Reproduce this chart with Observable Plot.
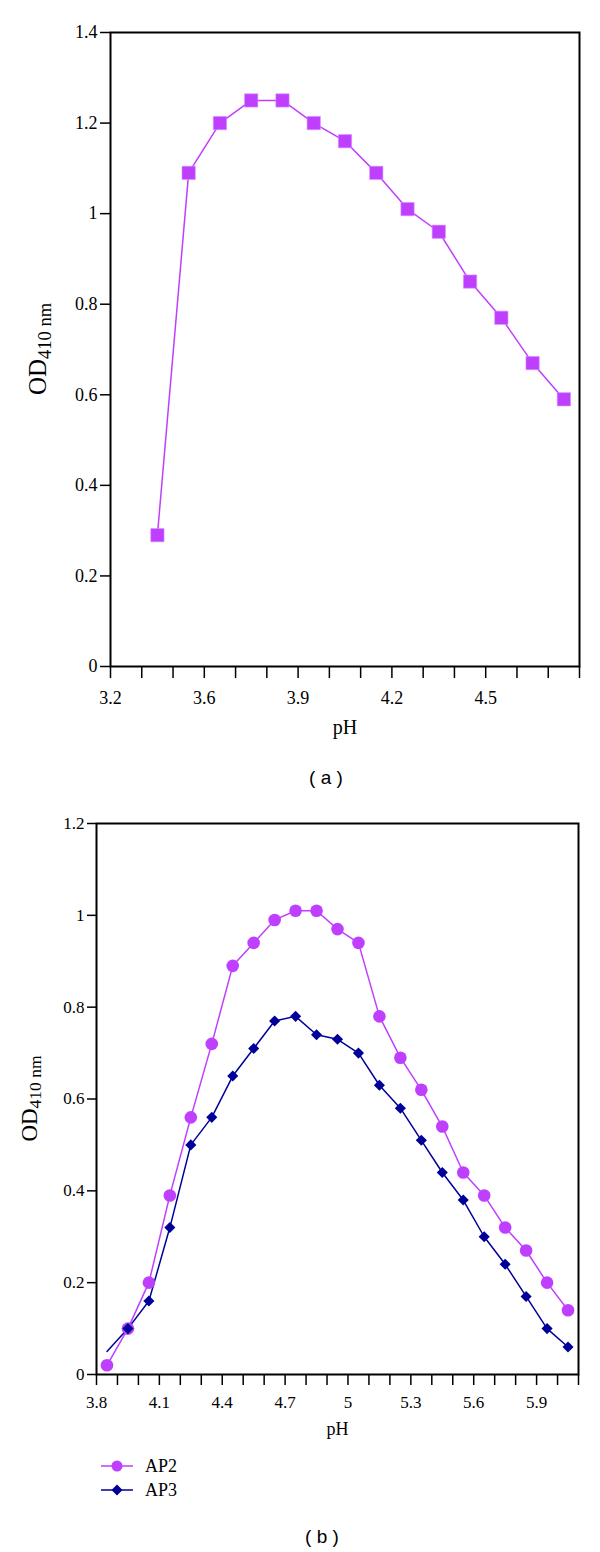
<!DOCTYPE html>
<html><head><meta charset="utf-8">
<script src="https://cdn.jsdelivr.net/npm/d3@7"></script>
<script src="https://cdn.jsdelivr.net/npm/@observablehq/plot@0.6"></script>
<style>
body{margin:0;background:#fff;}
#root{position:relative;width:600px;height:1552px;background:#fff;}
#root svg text{font-family:'Liberation Serif','Times New Roman',serif;}
.chart{position:absolute;left:0;}
.cap{position:absolute;font-family:'Liberation Sans',Arial,sans-serif;font-size:19px;transform:translate(-50%,-50%);white-space:pre;color:#000;}
.legend{position:absolute;left:100px;top:1454px;font-family:'Liberation Serif',serif;font-size:18px;color:#000;}
.legend .row{display:flex;align-items:center;height:24px;}
.legend svg{display:block;}
.legend span{margin-left:11px;}
</style></head><body><div id="root"></div>
<script>
// ---------- Panel (a) ----------
const phA = [3.45, 3.55, 3.65, 3.75, 3.85, 3.95, 4.05, 4.15, 4.25, 4.35, 4.45, 4.55, 4.65, 4.75];
const odA = [0.29, 1.09, 1.20, 1.25, 1.25, 1.20, 1.16, 1.09, 1.01, 0.96, 0.85, 0.77, 0.67, 0.59];
const xLabelPosA = [3.3, 3.6, 3.9, 4.2, 4.5];
const xLabelsA = ["3.2", "3.6", "3.9", "4.2", "4.5"];
const yTicksA = [0, 0.2, 0.4, 0.6, 0.8, 1, 1.2, 1.4];

// ---------- Panel (b) ----------
const phB = [3.85, 3.95, 4.05, 4.15, 4.25, 4.35, 4.45, 4.55, 4.65, 4.75, 4.85, 4.95, 5.05, 5.15, 5.25, 5.35, 5.45, 5.55, 5.65, 5.75, 5.85, 5.95, 6.05];
const ap2 = [0.02, 0.10, 0.20, 0.39, 0.56, 0.72, 0.89, 0.94, 0.99, 1.01, 1.01, 0.97, 0.94, 0.78, 0.69, 0.62, 0.54, 0.44, 0.39, 0.32, 0.27, 0.20, 0.14];
const ap3 = [0.05, 0.10, 0.16, 0.32, 0.50, 0.56, 0.65, 0.71, 0.77, 0.78, 0.74, 0.73, 0.70, 0.63, 0.58, 0.51, 0.44, 0.38, 0.30, 0.24, 0.17, 0.10, 0.06];
const xLabelPosB = [3.8, 4.1, 4.4, 4.7, 5.0, 5.3, 5.6, 5.9];
const xLabelsB = ["3.8", "4.1", "4.4", "4.7", "5", "5.3", "5.6", "5.9"];
const yTicksB = [0, 0.2, 0.4, 0.6, 0.8, 1, 1.2];
const seriesNames = ["AP2", "AP3"];

const purple = "#bf3fff";
const navy = "#000099";
const serif = "'Liberation Serif', 'Times New Roman', serif";

const rowsA = phA.map((p, i) => ({pH: p, od: odA[i]}));
const rowsB = [
  ...phB.map((p, i) => ({pH: p, od: ap2[i], s: seriesNames[0], i})),
  ...phB.map((p, i) => ({pH: p, od: ap3[i], s: seriesNames[1], i}))
];

const xTicksA = d3.range(16).map(i => +(3.3 + 0.1 * i).toFixed(2));
const xTicksB = d3.range(24).map(i => +(3.8 + 0.1 * i).toFixed(2));
const fmt = (pos, labels) => d => {
  const k = pos.findIndex(p => Math.abs(p - d) < 1e-6);
  return k < 0 ? "" : labels[k];
};

const root = document.getElementById("root");

function addYTitle(svg, x, y, big, small, shift) {
  const t = d3.select(svg).append("text")
    .attr("transform", `translate(${x},${y}) rotate(-90)`)
    .attr("text-anchor", "middle")
    .attr("font-family", serif)
    .attr("fill", "#000");
  t.append("tspan").attr("font-size", big).text("OD");
  t.append("tspan").attr("font-size", small).attr("dy", shift).text("410 nm");
}
function forceSerif(svg) {
  d3.select(svg).selectAll("text").style("font-family", serif).style("font-variant", "normal");
}

const plotA = Plot.plot({
  width: 600, height: 760,
  marginLeft: 110, marginRight: 21, marginTop: 32, marginBottom: 94,
  style: {fontFamily: serif, fontSize: "18px", color: "#000", background: "transparent", overflow: "visible"},
  x: {domain: [3.3, 4.8], axis: null},
  y: {domain: [0, 1.4], axis: null},
  marks: [
    Plot.axisY({ticks: yTicksA, tickSize: 10, tickPadding: 3, tickFormat: d => String(d), label: null, strokeWidth: 1.5, fontSize: 18, fontFamily: serif}),
    Plot.axisX({ticks: xTicksA, tickSize: 12, tickPadding: 13, tickFormat: fmt(xLabelPosA, xLabelsA), label: null, strokeWidth: 1.5, fontSize: 18, fontFamily: serif}),
    Plot.frame({stroke: "#000", strokeWidth: 2}),
    Plot.line(rowsA, {x: "pH", y: "od", stroke: purple, strokeWidth: 1.5}),
    Plot.dot(rowsA, {x: "pH", y: "od", symbol: "square", r: 7.5, fill: purple, stroke: "#d590ff", strokeWidth: 0.6}),
    Plot.text(["pH"], {frameAnchor: "bottom", dy: 67, fontSize: 20, fill: "#000", fontFamily: serif})
  ]
});
plotA.classList.add("chart");
plotA.style.top = "0px";
forceSerif(plotA);
addYTitle(plotA, 46, 349, 25, 18.5, 4.5);
root.appendChild(plotA);

const plotB = Plot.plot({
  width: 600, height: 660,
  marginLeft: 96, marginRight: 22, marginTop: 33, marginBottom: 76,
  style: {fontFamily: serif, fontSize: "17px", color: "#000", background: "transparent", overflow: "visible"},
  x: {domain: [3.8, 6.1], axis: null},
  y: {domain: [0, 1.2], axis: null},
  color: {domain: seriesNames, range: [purple, navy]},
  marks: [
    Plot.axisY({ticks: yTicksB, tickSize: 9, tickPadding: 3, tickFormat: d => String(d), label: null, strokeWidth: 1.5, fontSize: 17, fontFamily: serif}),
    Plot.axisX({ticks: xTicksB, tickSize: 11, tickPadding: 10, tickFormat: fmt(xLabelPosB, xLabelsB), label: null, strokeWidth: 1.5, fontSize: 17, fontFamily: serif}),
    Plot.frame({stroke: "#000", strokeWidth: 2}),
    Plot.line(rowsB, {x: "pH", y: "od", z: "s", stroke: "s", strokeWidth: 1.5}),
    Plot.dot(rowsB, {filter: d => d.s === "AP2", x: "pH", y: "od", symbol: "circle", r: 6.3, fill: "s"}),
    Plot.dot(rowsB, {filter: d => d.s === "AP3" && d.i > 0, x: "pH", y: "od", symbol: "diamond2", r: 5, fill: "s"}),
    Plot.text(["pH"], {frameAnchor: "bottom", dy: 60, fontSize: 18, fill: "#000", fontFamily: serif})
  ]
});
plotB.classList.add("chart");
plotB.style.top = "790px";
forceSerif(plotB);
addYTitle(plotB, 37, 308.5, 23, 17.5, 4);
root.appendChild(plotB);

// captions
[["( a )", 326, 778], ["( b )", 322, 1537]].forEach(([t, x, y]) => {
  const d = document.createElement("div");
  d.className = "cap"; d.textContent = t;
  d.style.left = x + "px"; d.style.top = y + "px";
  root.appendChild(d);
});

// legend
const legend = d3.select(root).append("div").attr("class", "legend");
seriesNames.forEach((name, k) => {
  const row = legend.append("div").attr("class", "row");
  const svg = row.append("svg").attr("width", 34).attr("height", 24);
  const col = k === 0 ? purple : navy;
  svg.append("line").attr("x1", 1).attr("x2", 33).attr("y1", 12).attr("y2", 12).attr("stroke", col).attr("stroke-width", 1.5);
  if (k === 0) svg.append("circle").attr("cx", 17).attr("cy", 12).attr("r", 5.5).attr("fill", col);
  else svg.append("path").attr("d", "M17,6.5L22.5,12L17,17.5L11.5,12Z").attr("fill", col);
  row.append("span").text(name);
});
</script>
</body></html>
